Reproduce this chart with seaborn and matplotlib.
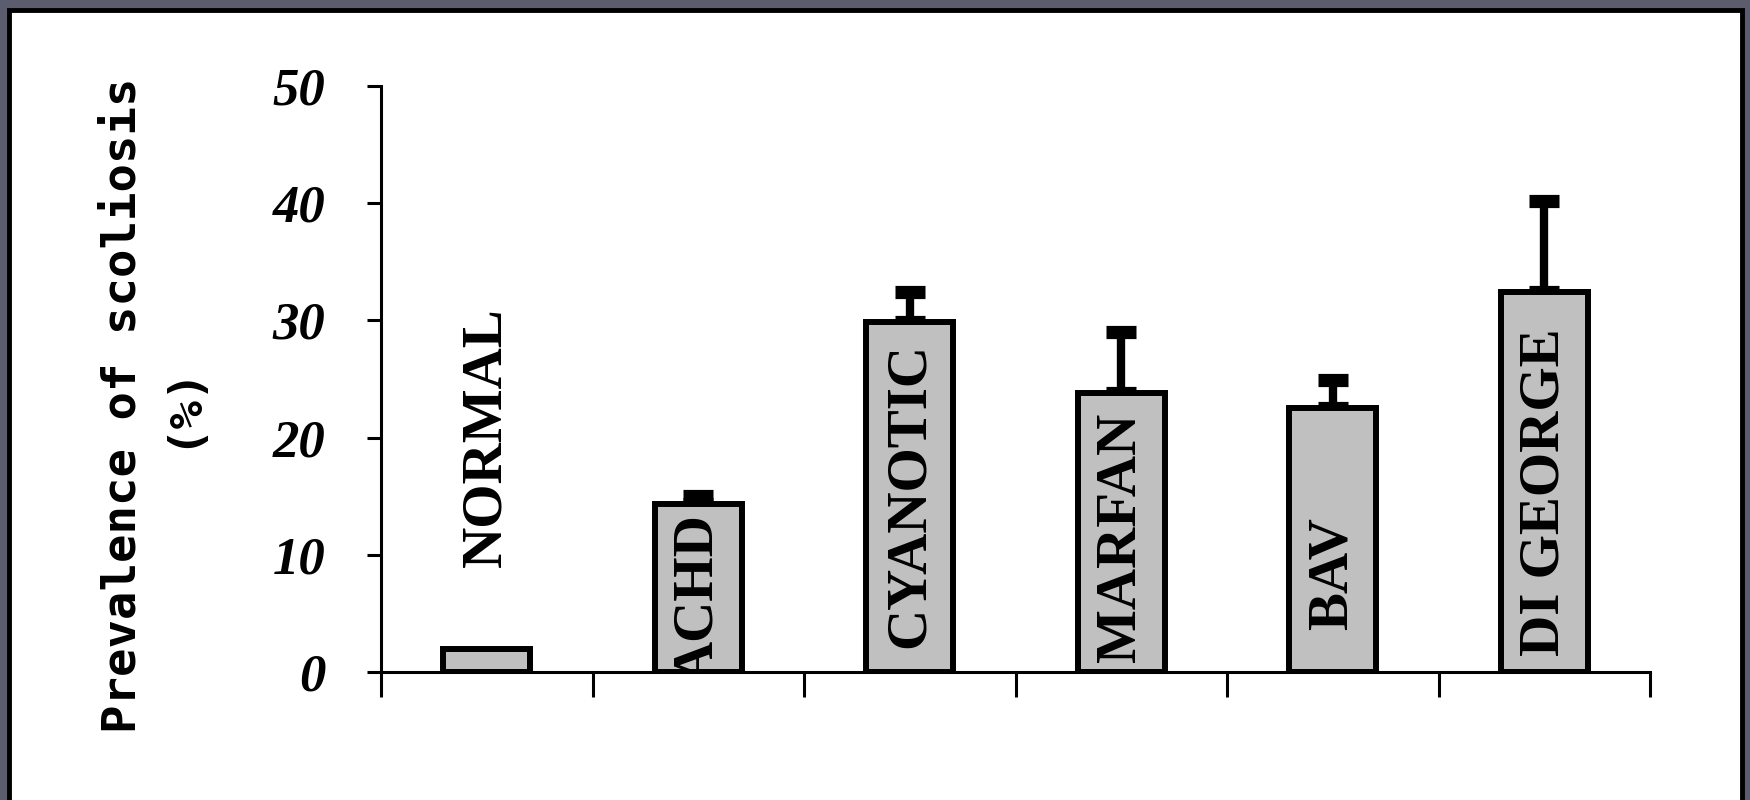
import matplotlib
matplotlib.use("Agg")
import matplotlib.pyplot as plt
import matplotlib.patches as mpatches
import seaborn as sns
import pandas as pd

# data
categories = ["NORMAL", "ACHD", "CYANOTIC", "MARFAN", "BAV", "DI GEORGE"]
prevalence = [2.0, 14.3, 29.9, 23.8, 22.5, 32.4]
upper_err = [0.0, 0.7, 2.5, 5.2, 2.4, 7.8]
y_ticks = [0, 10, 20, 30, 40, 50]

# where the rotated category names sit (data units)
label_y = [20.0, 6.3, 15.1, 11.5, 8.4, 15.3]

df = pd.DataFrame({"group": categories, "prev": prevalence, "err": upper_err})

sns.set_style("white")
plt.rcParams["font.family"] = ["Liberation Serif", "DejaVu Serif"]
plt.rcParams.update({"text.color": "black", "axes.labelcolor": "black",
                     "xtick.color": "black", "ytick.color": "black"})

fig = plt.figure(figsize=(17.5, 8), dpi=100)
fig.patch.set_facecolor("#5b5c6e")
frame = mpatches.Rectangle((9 / 1750, -0.01), 1733 / 1750, 0.997,
                           transform=fig.transFigure, facecolor="white",
                           edgecolor="black", linewidth=3.5, zorder=-10)
fig.patches.append(frame)

ax = fig.add_axes([381 / 1750, 128 / 800, 1269 / 1750, 586 / 800])
ax.set_facecolor("white")

sns.barplot(data=df, x="group", y="prev", color="#c0c0c0", saturation=1,
            edgecolor="black", linewidth=4.3, width=0.41, errorbar=None, ax=ax)

# one-sided (upper) error bars, none for NORMAL
has_err = df["err"] > 0
ax.errorbar(df.index[has_err], df["prev"][has_err],
            yerr=[[0] * has_err.sum(), df["err"][has_err]],
            fmt="none", ecolor="black", elinewidth=6, capsize=11,
            capthick=9.5, zorder=1)
for b in ax.patches:
    b.set_zorder(2)

for i, name in enumerate(categories):
    ax.text(i, label_y[i], name, rotation=90, ha="center", va="center",
            fontsize=41, fontweight="bold", clip_on=True, zorder=3)

ax.set_xlim(-0.5, len(categories) - 0.5)
ax.set_ylim(0, 50)
ax.set_xticks([i - 0.5 for i in range(len(categories) + 1)])
ax.set_xticklabels([])
ax.set_yticks(y_ticks)
ax.set_yticklabels([str(t) for t in y_ticks], fontsize=38,
                   fontweight="bold", fontstyle="italic")
ax.tick_params(axis="x", direction="out", length=18, width=2.2, bottom=True)
ax.tick_params(axis="y", direction="out", length=10, width=2.2, left=True, pad=30)

for s in ["top", "right"]:
    ax.spines[s].set_visible(False)
for s in ["left", "bottom"]:
    ax.spines[s].set_linewidth(2.2)
    ax.spines[s].set_color("black")

ax.set_xlabel("")
ax.set_ylabel("Prevalence of scoliosis\n(%)", fontsize=34, fontweight="bold",
              family="DejaVu Sans Mono", linespacing=1.4, va="center")
ax.yaxis.set_label_coords(-0.18, 0.455)

fig.savefig("out.png", dpi=100, facecolor=fig.get_facecolor())
